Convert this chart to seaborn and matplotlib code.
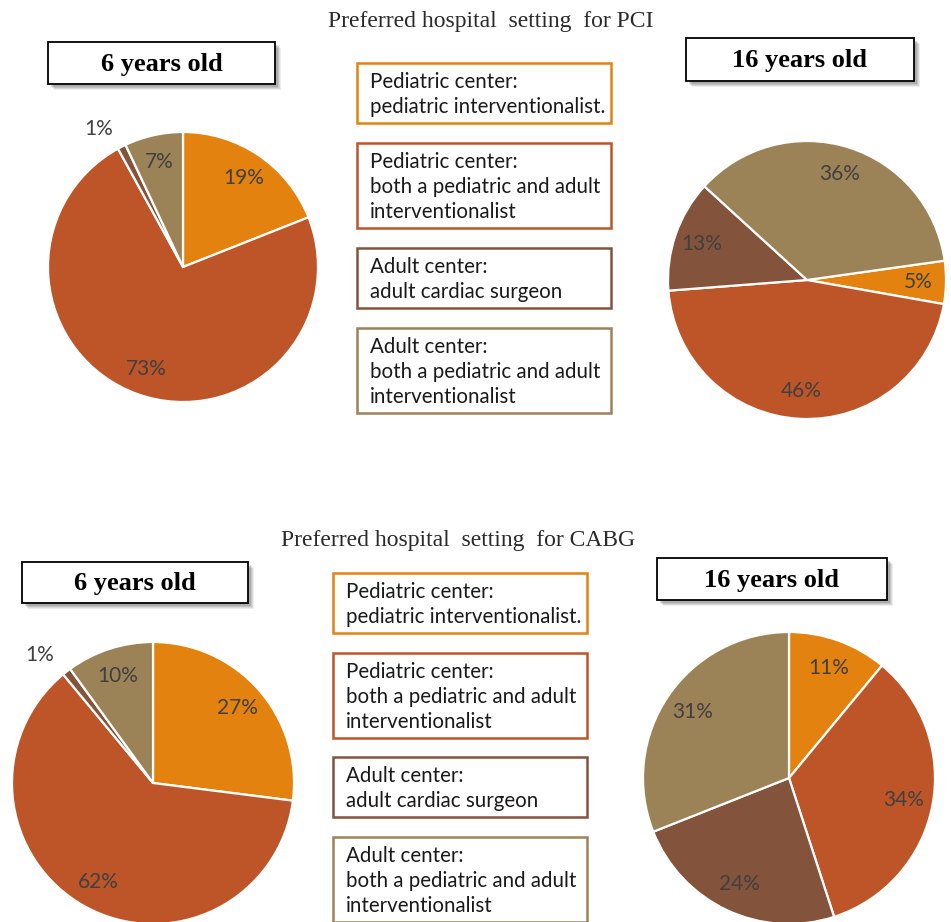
import matplotlib
matplotlib.use("Agg")
import matplotlib.pyplot as plt
import seaborn as sns
import numpy as np
from matplotlib.patches import Rectangle

sns.set_theme(style="white")
plt.rcParams["font.family"] = ["Lato", "DejaVu Sans"]

W, H = 951, 922

categories = [
    ["Pediatric center:", "pediatric interventionalist."],
    ["Pediatric center:", "both a pediatric and adult", "interventionalist"],
    ["Adult center:", "adult cardiac surgeon"],
    ["Adult center:", "both a pediatric and adult", "interventionalist"],
]
pci_6 = [19, 73, 1, 7]
pci_16 = [5, 46, 13, 36]
cabg_6 = [27, 62, 1, 10]
cabg_16 = [11, 34, 24, 31]
titles = ["Preferred hospital  setting  for PCI", "Preferred hospital  setting  for CABG"]
ages = ["6 years old", "16 years old"]

palette = sns.color_palette(["#E3820F", "#BD5529", "#84533B", "#9C8257"])

fig = plt.figure(figsize=(W / 100, H / 100), dpi=100)
fig.patch.set_facecolor("white")


def pie_at(values, cx, cy, r, start):
    ax = fig.add_axes([(cx - r) / W, (H - cy - r) / H, 2 * r / W, 2 * r / H])
    small = [f"{v}%" if v < 2 else "" for v in values]
    wedges, texts, autotexts = ax.pie(
        values, colors=palette, startangle=start, counterclock=False,
        labels=small, labeldistance=1.15,
        autopct=lambda p: f"{p:.0f}%" if p >= 2 else "", pctdistance=0.8,
        wedgeprops={"edgecolor": "white", "linewidth": 1.6},
        textprops={"fontsize": 15, "color": "#404040"},
    )
    ax.set_xlim(-1, 1)
    ax.set_ylim(-1, 1)
    ax.set_aspect("equal")
    ax.axis("off")
    return ax


pie_at(pci_6, 183, 267, 135, 90)
pie_at(pci_16, 807, 280, 139, 8)
pie_at(cabg_6, 153, 783, 141, 90)
pie_at(cabg_16, 789, 778, 146, 90)

# overlay in pixel coordinates for boxes and titles
ov = fig.add_axes([0, 0, 1, 1], zorder=5)
ov.set_xlim(0, W)
ov.set_ylim(H, 0)
ov.axis("off")
ov.patch.set_alpha(0)

ov.text(491, 22, titles[0], ha="center", va="center", fontsize=17,
        family="Liberation Serif", color="#2a2a2a")
ov.text(458, 540, titles[1], ha="center", va="center", fontsize=17,
        family="Liberation Serif", color="#2a2a2a")

legend_tops = [[63, 143, 248, 328], [573, 653, 757, 837]]
legend_x = [357, 333]
for blk in range(2):
    x0 = legend_x[blk]
    for i, lines in enumerate(categories):
        top = legend_tops[blk][i]
        h = 25 * len(lines) + 10
        ov.add_patch(Rectangle((x0, top), 254, h, fill=False,
                               edgecolor=palette[i], linewidth=1.8))
        for j, line in enumerate(lines):
            ov.text(x0 + 13, top + 25 + 25 * j, line, ha="left", va="baseline",
                    fontsize=14.8, color="#1a1a1a")

headers = [(48, 42, 227, 42, ages[0]), (686, 38, 228, 43, ages[1]),
           (22, 562, 226, 41, ages[0]), (657, 558, 230, 42, ages[1])]
for x, y, w, h, label in headers:
    for k, a in enumerate([0.10, 0.12, 0.16, 0.2]):
        off = 6 - k
        ov.add_patch(Rectangle((x + off, y + off), w, h, facecolor="#555555",
                               edgecolor="none", alpha=a))
    ov.add_patch(Rectangle((x, y), w, h, facecolor="white", edgecolor="black",
                           linewidth=1.3))
    ov.text(x + w / 2, y + h / 2 + 1, label, ha="center", va="center", fontsize=19,
            family="Liberation Serif", fontweight="bold", color="black")

fig.savefig("out.png", dpi=100, facecolor="white")
